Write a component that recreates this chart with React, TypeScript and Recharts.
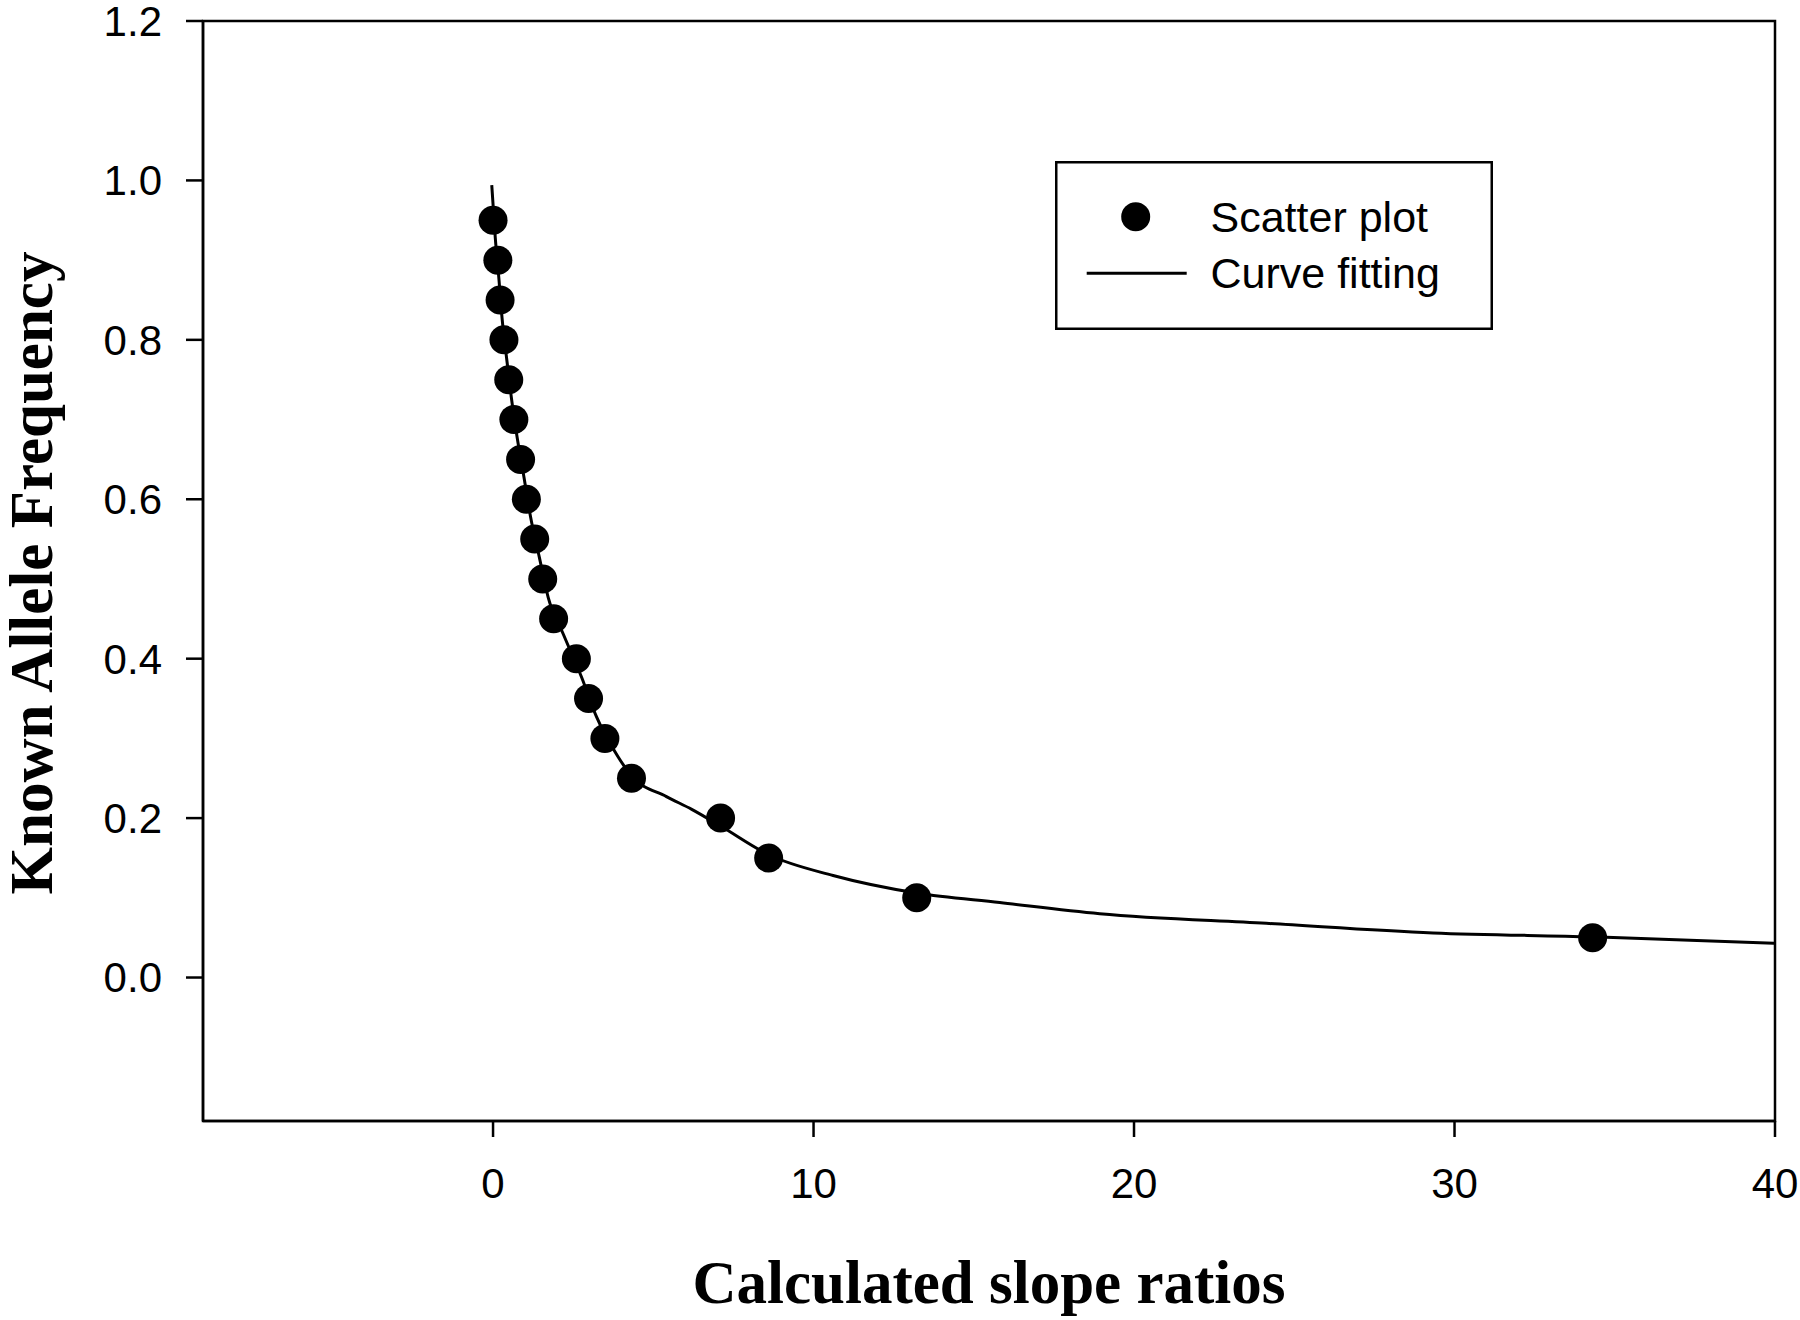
import React from "react";
import {
  ComposedChart,
  Line,
  Scatter,
  XAxis,
  YAxis,
  ReferenceArea,
  Legend,
  Label,
} from "recharts";

// measured points (calculated slope ratio vs known allele frequency)
const slopeRatios = [
  0.0, 0.15, 0.22, 0.34, 0.49, 0.65, 0.86, 1.04, 1.3, 1.55, 1.89, 2.6, 2.98,
  3.49, 4.32, 7.1, 8.6, 13.22, 34.31,
];
const alleleFreqs = [
  0.95, 0.9, 0.85, 0.8, 0.75, 0.7, 0.65, 0.6, 0.55, 0.5, 0.45, 0.4, 0.35, 0.3,
  0.25, 0.2, 0.15, 0.1, 0.05,
];

// fitted curve
const fitX = [
  -0.04, 0.07, 0.18, 0.28, 0.42, 0.57, 0.75, 0.96, 1.17, 1.44, 1.72, 2.2, 2.76,
  3.23, 3.9, 4.32, 5.41, 6.2, 7.1, 8.6, 10.61, 13.22, 15.81, 18.93, 24.13,
  29.33, 34.3, 40,
];
const fitY = [
  0.994, 0.928, 0.878, 0.828, 0.778, 0.728, 0.678, 0.629, 0.578, 0.528, 0.477,
  0.43, 0.377, 0.327, 0.277, 0.253, 0.227, 0.211, 0.19, 0.154, 0.128, 0.106,
  0.094, 0.08, 0.068, 0.056, 0.051, 0.043,
];

const xTicks = [0, 10, 20, 30, 40];
const yTicks = [0, 0.2, 0.4, 0.6, 0.8, 1.0, 1.2];

const xDomain: [number, number] = [-9.05, 40];
const yDomain: [number, number] = [-0.18, 1.2];

const sans = "'Liberation Sans', Arial, Helvetica, sans-serif";
const serif = "'Liberation Serif', 'Times New Roman', serif";

const points = slopeRatios.map((x, i) => ({ x, y: alleleFreqs[i] }));
const curve = fitX.map((x, i) => ({ x, y: fitY[i] }));

const XTitle = (props: any) => {
  const { viewBox } = props;
  return (
    <text
      x={viewBox.x + viewBox.width / 2}
      y={viewBox.y + 182}
      textAnchor="middle"
      fontFamily={serif}
      fontWeight="bold"
      fontSize={61}
      fill="#000"
    >
      Calculated slope ratios
    </text>
  );
};

const YTitle = (props: any) => {
  const { viewBox } = props;
  const cx = 52;
  const cy = viewBox.y + viewBox.height / 2 + 2;
  return (
    <text
      x={cx}
      y={cy}
      transform={`rotate(-90, ${cx}, ${cy})`}
      textAnchor="middle"
      fontFamily={serif}
      fontWeight="bold"
      fontSize={61}
      fill="#000"
    >
      Known Allele Frequency
    </text>
  );
};

// boxed legend like the original figure
const LegendBox = () => (
  <svg width={438} height={169} style={{ display: "block" }}>
    <rect
      x={1.25}
      y={1.25}
      width={435.5}
      height={166.5}
      fill="#fff"
      stroke="#000"
      strokeWidth={2.5}
    />
    <circle cx={80.7} cy={55.7} r={14.5} fill="#000" />
    <text x={155.5} y={70.7} fontFamily={sans} fontSize={43} fill="#000">
      Scatter plot
    </text>
    <line x1={31.7} x2={131.7} y1={112.3} y2={112.3} stroke="#000" strokeWidth={3} />
    <text x={155.5} y={127} fontFamily={sans} fontSize={43} fill="#000">
      Curve fitting
    </text>
  </svg>
);

const Dot = (props: any) => (
  <circle cx={props.cx} cy={props.cy} r={14.5} fill="#000" />
);

export default function App() {
  return (
    // absolute so the full 1800x1320 frame is usable without scrollbars
    <div style={{ position: "absolute", left: 0, top: 0 }}>
      <ComposedChart
        width={1800}
        height={1320}
        margin={{ top: 21, right: 25, left: 8, bottom: 8 }}
      >
        <XAxis
          type="number"
          dataKey="x"
          domain={xDomain}
          ticks={xTicks}
          interval={0}
          allowDataOverflow
          height={191}
          tickSize={16}
          tickMargin={31}
          axisLine={{ stroke: "#000", strokeWidth: 2.5 }}
          tickLine={{ stroke: "#000", strokeWidth: 2.5 }}
          tick={{ fill: "#000", fontSize: 42, fontFamily: sans }}
        >
          <Label content={XTitle} />
        </XAxis>
        <YAxis
          type="number"
          dataKey="y"
          domain={yDomain}
          ticks={yTicks}
          interval={0}
          allowDataOverflow
          width={195}
          tickSize={17}
          tickMargin={24}
          tickFormatter={(v: number) => v.toFixed(1)}
          axisLine={{ stroke: "#000", strokeWidth: 2.5 }}
          tickLine={{ stroke: "#000", strokeWidth: 2.5 }}
          tick={{ fill: "#000", fontSize: 42, fontFamily: sans }}
        >
          <Label content={YTitle} />
        </YAxis>
        <ReferenceArea
          x1={xDomain[0]}
          x2={xDomain[1]}
          y1={yDomain[0]}
          y2={yDomain[1]}
          fill="none"
          fillOpacity={0}
          stroke="#000"
          strokeWidth={2.5}
        />
        <Line
          data={curve}
          dataKey="y"
          type="monotone"
          stroke="#000"
          strokeWidth={3}
          dot={false}
          activeDot={false}
          isAnimationActive={false}
        />
        <Scatter
          data={points}
          dataKey="y"
          fill="#000"
          shape={Dot}
          isAnimationActive={false}
        />
        <Legend
          layout="vertical"
          align="center"
          verticalAlign="middle"
          content={LegendBox}
          wrapperStyle={{
            position: "absolute",
            left: 1055,
            top: 161,
            width: 438,
            height: 169,
            margin: 0,
            padding: 0,
          }}
        />
      </ComposedChart>
    </div>
  );
}
